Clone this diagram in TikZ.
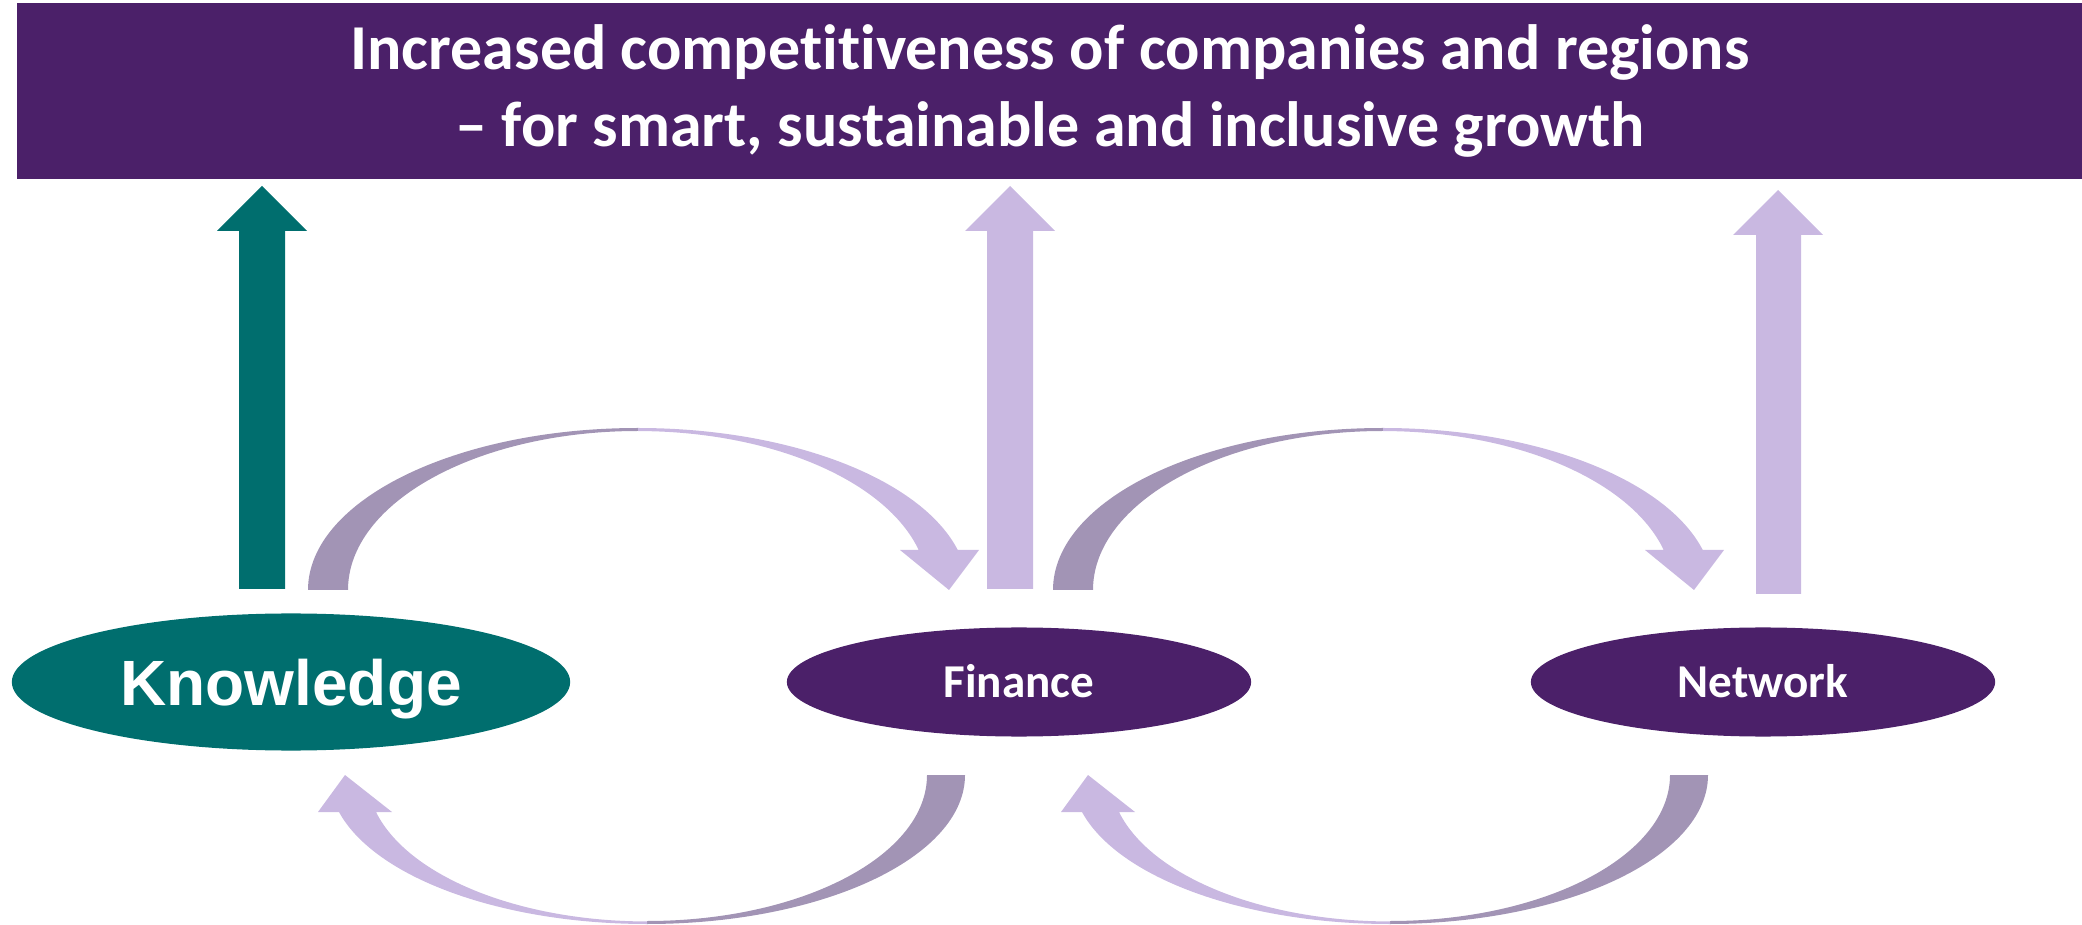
\documentclass[tikz,border=0pt]{standalone}
\usepackage{fontspec}
\setmainfont{Carlito}[Ligatures=NoCommon]
\newfontfamily\arialfont{Liberation Sans}
\usetikzlibrary{shapes.geometric}
\definecolor{barpurple}{RGB}{75,32,105}
\definecolor{tealc}{RGB}{0,110,110}
\definecolor{lavender}{RGB}{201,184,225}
\definecolor{mauve}{RGB}{162,148,181}
\tikzset{
  titlebar/.style={fill=barpurple, text=white, minimum width=20.64cm, minimum height=1.76cm,
    inner sep=0pt, align=center, font=\bfseries\fontsize{18.2pt}{21.8pt}\selectfont},
  oval/.style={ellipse, fill=barpurple, text=white, inner sep=0pt, text depth=0pt},
  smalloval/.style={oval, minimum width=4.64cm, minimum height=1.09cm, text height=0.31cm,
    font=\bfseries\fontsize{13.4pt}{15pt}\selectfont},
  bigoval/.style={oval, fill=tealc, minimum width=5.58cm, minimum height=1.37cm, text height=0.47cm,
    font=\arialfont\bfseries\fontsize{18.2pt}{20pt}\selectfont},
  darkpart/.style={fill=mauve},
  lightpart/.style={fill=lavender},
}
\begin{document}
\begin{tikzpicture}[x=0.01cm,y=-0.01cm]
\useasboundingbox (0,0) rectangle (2082,925);

% title bar
\node[titlebar] (goal) at (1050,91) {Increased competitiveness of companies and regions\\– for smart, sustainable and inclusive growth};

% ovals
\node[bigoval] (knowledge) at (291,682) {Knowledge};
\node[smalloval] (finance) at (1019,682) {Finance};
\node[smalloval] (network) at (1763,682) {Network};

% vertical block arrows
\fill[tealc] (239,589) -- (239,231) -- (217,231) -- (262,186) -- (307,231) -- (285,231) -- (285,589) -- cycle;
\fill[lavender] (987,589) -- (987,231) -- (965,231) -- (1010,186) -- (1055,231) -- (1033,231) -- (1033,589) -- cycle;
\fill[lavender] (1756,594) -- (1756,235) -- (1733,235) -- (1778,190) -- (1823,235) -- (1801,235) -- (1801,594) -- cycle;

% upper curved arrows (Knowledge -> Finance, Finance -> Network)
\foreach \cx in {638,1383}{
  \fill[darkpart] (\cx-330,590) arc[start angle=180, end angle=270, x radius=330, y radius=162]
     -- (\cx,431) arc[start angle=270, end angle=180, x radius=290, y radius=159] -- cycle;
  \fill[lightpart] (\cx,428) arc[start angle=270, end angle=345.7, x radius=330, y radius=162]
     -- (\cx+341,550) -- (\cx+311,590) -- (\cx+262,550) -- (\cx+280.7,550)
     arc[start angle=345.4, end angle=270, x radius=290, y radius=159] -- cycle;
}

% lower curved arrows (Finance -> Knowledge, Network -> Finance)
\foreach \cx in {647,1390}{
  \fill[darkpart] (\cx+318,775) arc[start angle=0, end angle=90, x radius=318, y radius=149]
     -- (\cx,921) arc[start angle=90, end angle=0, x radius=280, y radius=146] -- cycle;
  \fill[lightpart] (\cx,924) arc[start angle=90, end angle=165.6, x radius=318, y radius=149]
     -- (\cx-329,812) -- (\cx-302,775) -- (\cx-255,812) -- (\cx-271,812)
     arc[start angle=165.5, end angle=90, x radius=280, y radius=146] -- cycle;
}
\end{tikzpicture}
\end{document}
